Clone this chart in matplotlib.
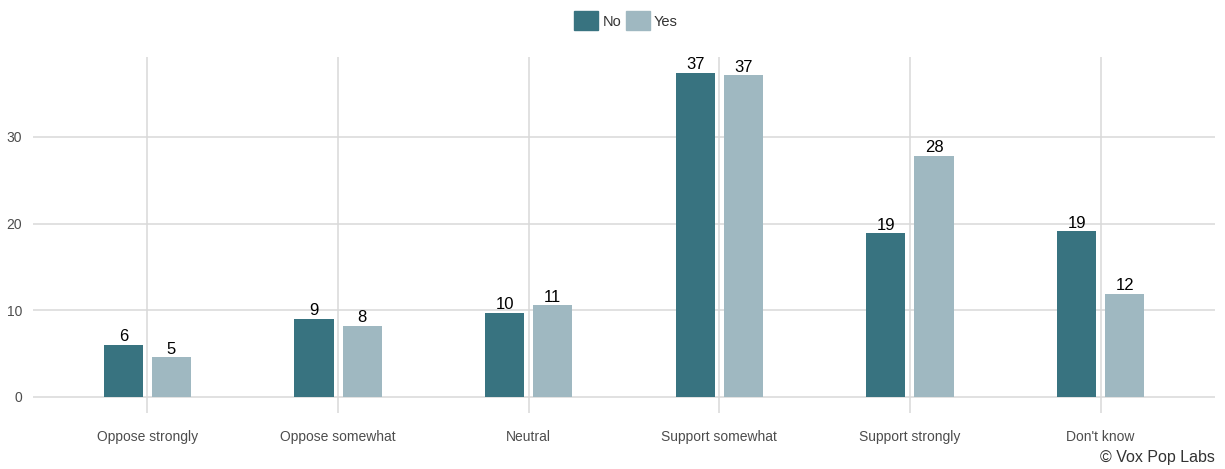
import matplotlib
matplotlib.use("Agg")
import matplotlib.pyplot as plt
import numpy as np
from matplotlib.patches import Patch

plt.rcParams['font.family'] = ['Liberation Sans', 'DejaVu Sans']

categories = ["Oppose strongly", "Oppose somewhat", "Neutral", "Support somewhat", "Support strongly", "Don't know"]
no_vals = [6.0, 9.0, 9.7, 37.4, 18.9, 19.1]
yes_vals = [4.6, 8.2, 10.6, 37.1, 27.8, 11.9]
no_labels = ["6", "9", "10", "37", "19", "19"]
yes_labels = ["5", "8", "11", "37", "28", "12"]
yticks = [0, 10, 20, 30]

c_no = "#387380"
c_yes = "#9fb8c1"

fig = plt.figure(figsize=(12.25, 4.69), dpi=100)
ax = fig.add_axes([33/1225, 56/469, (1215-33)/1225, (413-57)/469])

x = np.arange(len(categories))
w = 0.205
off = 0.126
b1 = ax.bar(x - off, no_vals, w, color=c_no, zorder=2)
b2 = ax.bar(x + off, yes_vals, w, color=c_yes, zorder=2)
for rect, lab in zip(b1, no_labels):
    ax.text(rect.get_x() + rect.get_width()/2, rect.get_height() + 0.05, lab,
            ha='center', va='bottom', fontsize=12, color='black', zorder=3)
for rect, lab in zip(b2, yes_labels):
    ax.text(rect.get_x() + rect.get_width()/2, rect.get_height() + 0.05, lab,
            ha='center', va='bottom', fontsize=12, color='black', zorder=3)

ax.set_xlim(-0.6, 5.6)
ax.set_ylim(-1.85, 39.2)
ax.set_xticks(x)
ax.set_xticklabels(categories)
ax.set_yticks(yticks)
ax.grid(True, color="#d9d9d9", linewidth=1.1, zorder=0)
for s in ax.spines.values():
    s.set_visible(False)
ax.tick_params(length=0, labelsize=10, colors="#4d4d4d", pad=8)
ax.tick_params(axis='x', pad=12)

handles = [Patch(color=c_no, label="No"), Patch(color=c_yes, label="Yes")]
fig.legend(handles=handles, loc='upper center', bbox_to_anchor=(0.511, 0.998), ncol=2,
           frameon=False, fontsize=10.5, handlelength=1.65, handleheight=1.65,
           handletextpad=0.3, columnspacing=0.3, labelcolor="#333333",
           borderaxespad=0.3)

fig.text(0.992, 0.008, "© Vox Pop Labs", ha='right', va='bottom', fontsize=11.5, color="#333333")

fig.savefig("out.png", dpi=100)
